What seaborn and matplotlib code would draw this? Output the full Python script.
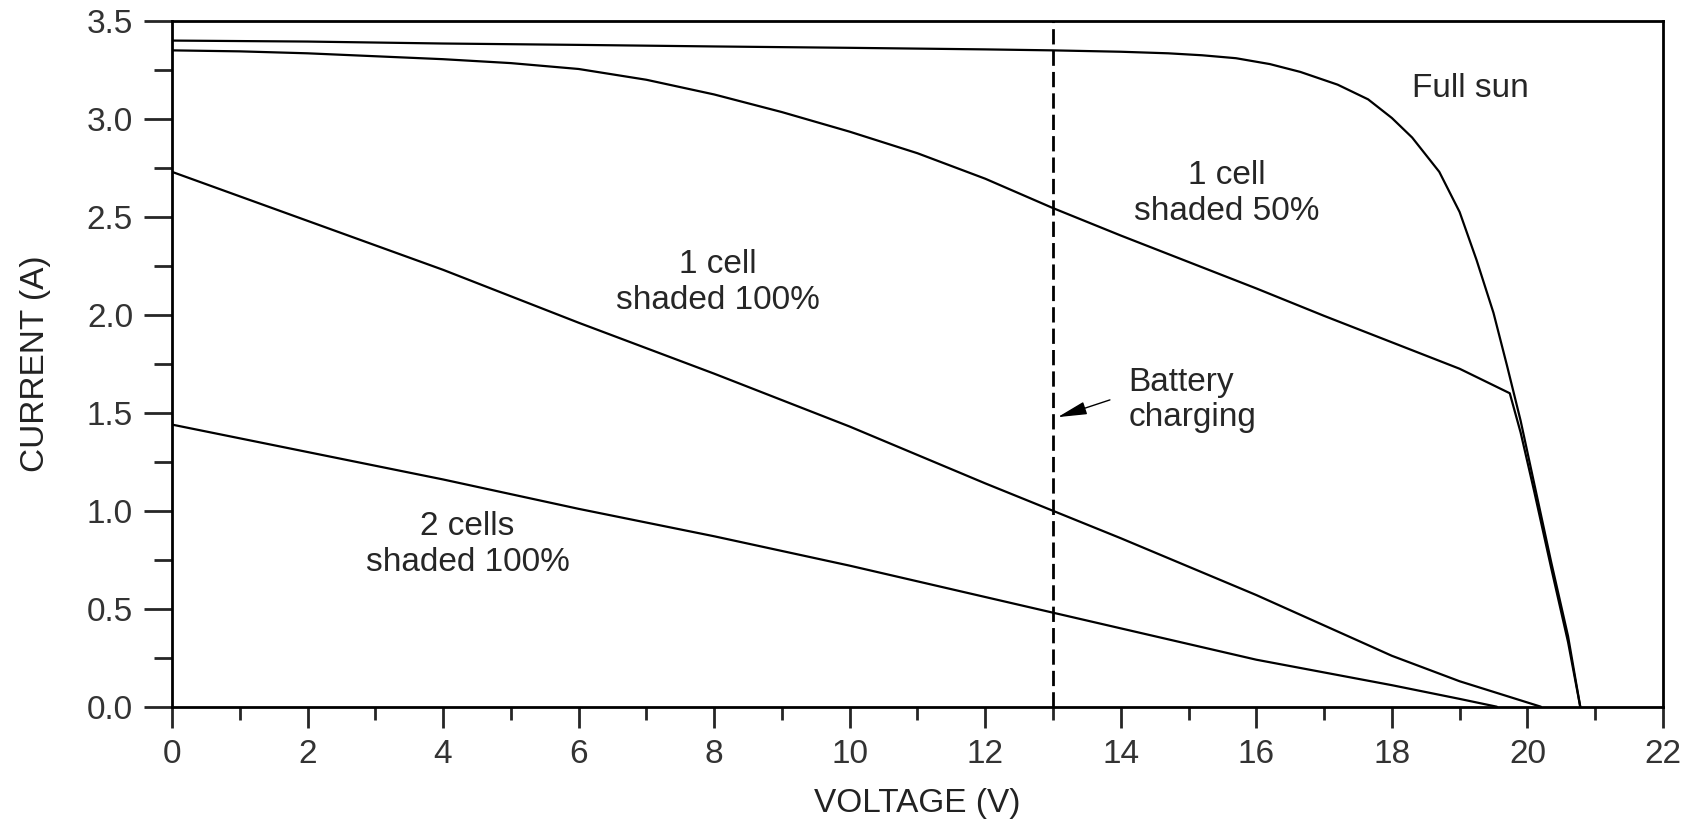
import matplotlib
matplotlib.use('Agg')
import matplotlib.pyplot as plt
from matplotlib.ticker import MultipleLocator, FormatStrFormatter
import seaborn as sns
import pandas as pd

# courbes I-V
v_full = [0, 2, 4, 6, 8, 10, 12, 13, 14, 14.7, 15.2, 15.7, 16.2, 16.65, 17.2, 17.65,
          18.0, 18.3, 18.7, 19.0, 19.25, 19.5, 19.7, 19.9, 20.1, 20.35, 20.6, 20.78]
i_full = [3.40, 3.395, 3.385, 3.378, 3.37, 3.363, 3.355, 3.35, 3.343, 3.335, 3.325, 3.31,
          3.28, 3.24, 3.175, 3.10, 3.005, 2.905, 2.73, 2.525, 2.28, 2.01, 1.74, 1.46,
          1.14, 0.74, 0.36, 0.0]

v_half = [0, 1, 2, 3, 4, 5, 6, 7, 8, 9, 10, 11, 12, 13, 14, 15, 16, 17, 18, 19,
          19.74, 19.9, 20.1, 20.35, 20.6, 20.78]
i_half = [3.35, 3.345, 3.335, 3.32, 3.305, 3.285, 3.255, 3.20, 3.125, 3.035, 2.935, 2.825,
          2.695, 2.545, 2.405, 2.27, 2.135, 1.995, 1.86, 1.725, 1.60, 1.40, 1.10, 0.71,
          0.33, 0.0]

v_one = [0, 2, 4, 6, 8, 10, 12, 13, 14, 16, 18, 19, 20.2]
i_one = [2.73, 2.48, 2.23, 1.96, 1.70, 1.43, 1.14, 1.00, 0.86, 0.57, 0.26, 0.13, 0.0]

v_two = [0, 2, 4, 6, 8, 10, 12, 13, 14, 16, 18, 19, 19.55]
i_two = [1.44, 1.30, 1.16, 1.01, 0.87, 0.72, 0.56, 0.48, 0.40, 0.24, 0.11, 0.04, 0.0]

v_battery = 13

sns.set_style('ticks')
plt.rcParams['font.family'] = ['Liberation Sans', 'DejaVu Sans']

fig = plt.figure(figsize=(16.96, 8.26), dpi=100)
ax = fig.add_axes([0.1014, 0.1444, 0.8791, 0.8302])

courbes = [(v_full, i_full), (v_half, i_half), (v_one, i_one), (v_two, i_two)]
for v, i in courbes:
    df = pd.DataFrame({'V': v, 'I': i})
    sns.lineplot(data=df, x='V', y='I', ax=ax, color='black', lw=1.6, estimator=None)

ax.axvline(v_battery, color='black', lw=2, dashes=(5.5, 2.2))

ax.set_xlim(0, 22)
ax.set_ylim(0, 3.5)
ax.xaxis.set_major_locator(MultipleLocator(2))
ax.xaxis.set_minor_locator(MultipleLocator(1))
ax.yaxis.set_major_locator(MultipleLocator(0.5))
ax.yaxis.set_minor_locator(MultipleLocator(0.25))
ax.yaxis.set_major_formatter(FormatStrFormatter('%.1f'))

fs = 24
for s in ax.spines.values():
    s.set_linewidth(2)
    s.set_color('black')
ax.tick_params(axis='y', which='major', length=20, width=2, pad=8, labelsize=fs, labelcolor='#333333')
ax.tick_params(axis='y', which='minor', length=13, width=2)
ax.tick_params(axis='x', which='major', length=15, width=2, pad=8, labelsize=fs, labelcolor='#333333')
ax.tick_params(axis='x', which='minor', length=9, width=2)

ax.set_xlabel('VOLTAGE (V)', fontsize=fs, color='#222222')
ax.set_ylabel('CURRENT (A)', fontsize=fs, color='#222222')
ax.xaxis.set_label_coords(0.5, -0.119)
ax.yaxis.set_label_coords(-0.081, 0.5)

ax.text(19.16, 3.157, 'Full sun', fontsize=fs, ha='center', va='center')
ax.text(15.56, 2.62, '1 cell\nshaded 50%', fontsize=fs, ha='center', va='center')
ax.text(8.06, 2.165, '1 cell\nshaded 100%', fontsize=fs, ha='center', va='center')
ax.text(4.36, 0.83, '2 cells\nshaded 100%', fontsize=fs, ha='center', va='center')
ax.text(14.11, 1.565, 'Battery\ncharging', fontsize=fs, ha='left', va='center')
ax.annotate('', xy=(13.07, 1.478), xytext=(13.84, 1.566),
            arrowprops=dict(arrowstyle='-|>,head_length=0.9,head_width=0.2',
                            color='black', lw=1, mutation_scale=20, shrinkA=0, shrinkB=0))

ax.set_facecolor('white')
fig.savefig('out.png', dpi=100, facecolor='white')
